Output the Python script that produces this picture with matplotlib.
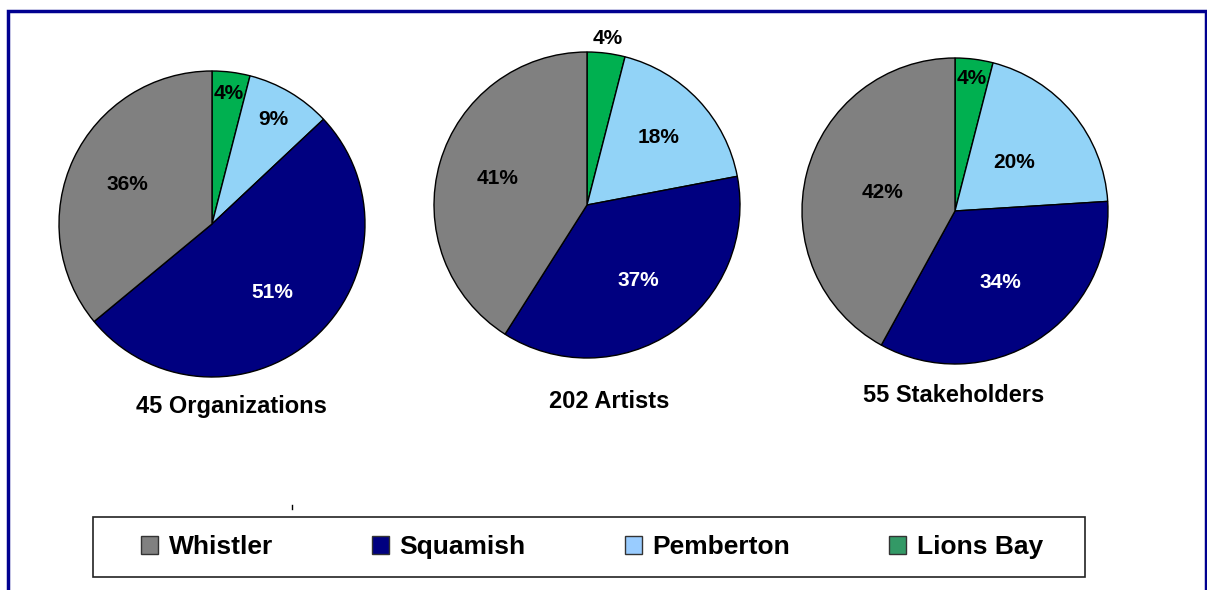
import numpy as np
import matplotlib
matplotlib.use("Agg")
import matplotlib.pyplot as plt
from matplotlib.patches import Patch, Rectangle

plt.rcParams["font.family"] = ["Liberation Sans", "DejaVu Sans"]
plt.rcParams["font.weight"] = "bold"

# slice order: clockwise from 12 o'clock
categories = ["Lions Bay", "Pemberton", "Squamish", "Whistler"]
organizations = [4, 9, 51, 36]
artists = [4, 18, 37, 41]
stakeholders = [4, 20, 34, 42]
titles = ["45 Organizations", "202 Artists", "55 Stakeholders"]

pie_colors = ["#00B050", "#92D3F7", "#000080", "#808080"]
legend_order = ["Whistler", "Squamish", "Pemberton", "Lions Bay"]
legend_colors = ["#808080", "#000080", "#99CCFF", "#339966"]

W, H = 1207, 590
fig = plt.figure(figsize=(W / 100, H / 100), dpi=100)
ax = fig.add_axes([0, 0, 1, 1])

# layout in pixel coords (y measured from top)
centers = [(212, 224), (587, 205), (955, 211)]
radius = 153
title_pos = [(231, 407), (609, 401), (954, 395)]
# label distance (fraction of radius) per slice, per pie
label_dist = [
    [0.86, 0.79, 0.60, 0.61],
    [1.10, 0.64, 0.60, 0.61],
    [0.87, 0.50, 0.55, 0.49],
]

for k, vals in enumerate([organizations, artists, stakeholders]):
    cx, cy = centers[k]
    wedges, _ = ax.pie(vals, colors=pie_colors, startangle=90, counterclock=False,
                       center=(cx, H - cy), radius=radius, frame=True,
                       wedgeprops=dict(edgecolor="black", linewidth=1.0))
    for i, w in enumerate(wedges):
        ang = np.deg2rad((w.theta1 + w.theta2) / 2)
        d = label_dist[k][i] * radius
        col = "white" if categories[i] == "Squamish" else "black"
        ax.text(cx + d * np.cos(ang), H - cy + d * np.sin(ang), f"{vals[i]}%",
                ha="center", va="center", fontsize=15, fontweight="bold", color=col)
    tx, ty = title_pos[k]
    ax.text(tx, H - ty, titles[k], ha="center", va="center",
            fontsize=17, fontweight="bold")

# outer frame (blue), open at the bottom
ax.plot([8, 8, 1206, 1206], [0, H - 11, H - 11, 0], color="#000090", lw=2.5,
        solid_joinstyle="miter")
ax.plot([292, 292], [H - 505, H - 509], color="black", lw=1)

# legend box
ax.add_patch(Rectangle((93, H - 577), 1085 - 93, 60, facecolor="none",
                       edgecolor="#222222", linewidth=1.2))

ax.set_xlim(0, W)
ax.set_ylim(0, H)
ax.set_aspect("equal")
ax.axis("off")

handles = [Patch(facecolor=c, edgecolor="#333333", linewidth=1) for c in legend_colors]
leg = fig.legend(handles, legend_order, ncol=4, loc="center",
                 bbox_to_anchor=(592 / W, 1 - 547 / H),
                 frameon=False, prop=dict(size=19, weight="bold"),
                 handlelength=0.65, handleheight=0.65, handletextpad=0.4,
                 columnspacing=3.75, borderpad=0, borderaxespad=0)

fig.savefig("out.png", dpi=100)
